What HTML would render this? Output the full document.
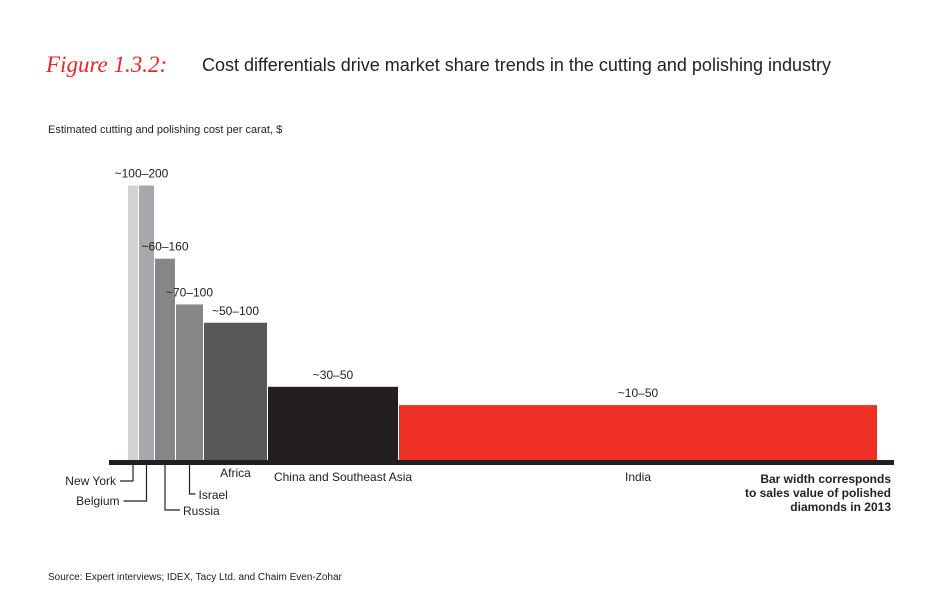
<!DOCTYPE html>
<html><head><meta charset="utf-8"><style>
body{margin:0;background:#fff;}
svg text{font-family:"Liberation Sans",sans-serif;}
</style></head><body>
<svg id="chart" width="950" height="606" viewBox="0 0 950 606" xmlns="http://www.w3.org/2000/svg">
<text x="46" y="72" font-family="'Liberation Serif',serif" font-style="italic" font-size="23" fill="#e8262a" style="font-family:'Liberation Serif',serif">Figure 1.3.2:</text>
<text x="202" y="71" font-size="18" fill="#222">Cost differentials drive market share trends in the cutting and polishing industry</text>
<text x="48" y="133" font-size="11" fill="#222">Estimated cutting and polishing cost per carat, $</text>
<g id="bars"></g>
<rect x="109" y="460" width="785" height="5" fill="#231f20"/>
<g id="labels" font-size="12" fill="#222"></g>
<g font-size="12" font-weight="bold" fill="#222" text-anchor="end">
<text x="891" y="483">Bar width corresponds</text>
<text x="891" y="497">to sales value of polished</text>
<text x="891" y="511">diamonds in 2013</text>
</g>
<text x="48" y="580" font-size="10" fill="#222">Source:  Expert interviews; IDEX, Tacy Ltd. and Chaim Even-Zohar</text>
</svg>
<script>
const categories = ["New York","Belgium","Russia","Israel","Africa","China and Southeast Asia","India"];
const costMid = [150,150,110,85,75,40,30];
const rangeLabels = ["","~100–200","~60–160","~70–100","~50–100","~30–50","~10–50"];
const salesWidth = [10,15,20,27,63,130,478];
const colors = ["#d1d2d4","#a7a8ab","#858688","#858688","#58585a","#231f20","#ee3124"];
const NS="http://www.w3.org/2000/svg";
const baseY=460, x0=128, gap=1, pxPerCost=1.83, pxPerSales=1;
const yScale=v=>baseY-v*pxPerCost;
const bars=document.getElementById('bars');
let x=x0;
const mids=[];
categories.forEach((c,i)=>{
  const w=salesWidth[i]*pxPerSales, y=yScale(costMid[i]);
  const r=document.createElementNS(NS,'rect');
  r.setAttribute('x',x);r.setAttribute('y',y);r.setAttribute('width',w);r.setAttribute('height',baseY-y);r.setAttribute('fill',colors[i]);
  
  
  bars.appendChild(r);
  mids.push(x+w/2);
  if(rangeLabels[i]){
    const t=document.createElementNS(NS,'text');
    let tx=x+w/2; if(i===1) tx=x0+(salesWidth[0]+salesWidth[1])/2+1;
    t.setAttribute('x',tx);t.setAttribute('y',y-8);t.setAttribute('text-anchor','middle');t.setAttribute('font-size','12');t.setAttribute('fill','#222');
    
    
    t.textContent=rangeLabels[i];bars.appendChild(t);
  }
  x+=w+gap;
});
const L=document.getElementById('labels');
function line(pts){const p=document.createElementNS(NS,'polyline');p.setAttribute('points',pts);p.setAttribute('fill','none');p.setAttribute('stroke','#222');p.setAttribute('stroke-width','1.2');


L.appendChild(p);}
function txt(s,tx,ty,anchor){const t=document.createElementNS(NS,'text');t.setAttribute('x',tx);t.setAttribute('y',ty);t.setAttribute('text-anchor',anchor);t.textContent=s;


L.appendChild(t);}
line(`${mids[0]},465 ${mids[0]},481 ${mids[0]-13},481`); txt(categories[0],mids[0]-17,485,'end');
line(`${mids[1]},465 ${mids[1]},501 ${mids[1]-23},501`); txt(categories[1],mids[1]-27,505,'end');
line(`${mids[2]},465 ${mids[2]},510 ${mids[2]+15},510`); txt(categories[2],mids[2]+18,515,'start');
line(`${mids[3]},465 ${mids[3]},494 ${mids[3]+6},494`); txt(categories[3],mids[3]+9,499,'start');
txt(categories[4],mids[4],477,'middle');
txt(categories[5],mids[5]+10,481,'middle');
txt(categories[6],mids[6],481,'middle');
</script>
</body></html>
